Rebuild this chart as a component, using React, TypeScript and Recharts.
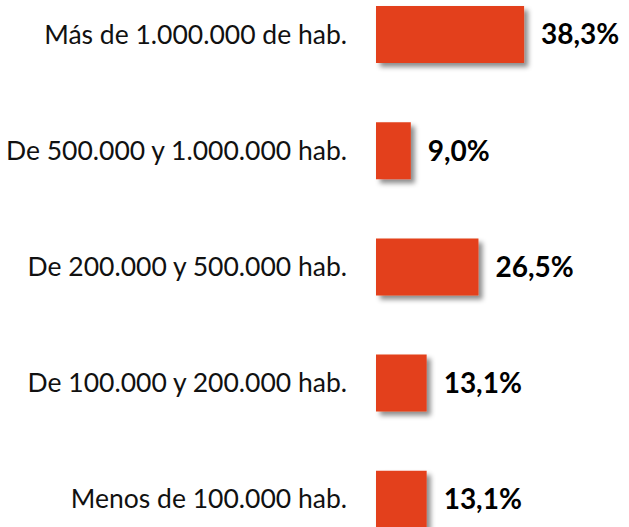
import React from 'react';
import { BarChart, Bar, XAxis, YAxis, LabelList } from 'recharts';

const categories = [
  'Más de 1.000.000 de hab.',
  'De 500.000 y 1.000.000 hab.',
  'De 200.000 y 500.000 hab.',
  'De 100.000 y 200.000 hab.',
  'Menos de 100.000 hab.',
];
const shares = [38.3, 9.0, 26.5, 13.1, 13.1];

const data = categories.map((name, i) => ({ name, value: shares[i] }));

const fmt = (v: any) => `${Number(v).toFixed(1).replace('.', ',')}%`;

export default function App() {
  return (
    <div style={{ position: 'absolute', left: 0, top: 0, width: 629, height: 527, overflow: 'hidden', background: '#fff' }}>
      <div style={{ position: 'absolute', left: 0, top: -24.5 }}>
        <BarChart
          width={629}
          height={581}
          data={data}
          layout="vertical"
          margin={{ top: 0, right: 21, bottom: 0, left: 0 }}
        >
          <defs>
            <filter id="barShadow" x="-20%" y="-20%" width="150%" height="160%">
              <feDropShadow dx="4" dy="4" stdDeviation="2.5" floodColor="#000" floodOpacity="0.45" />
            </filter>
          </defs>
          <XAxis type="number" domain={[0, 60]} hide />
          <YAxis
            type="category"
            dataKey="name"
            width={376}
            axisLine={false}
            tickLine={false}
            tickSize={0}
            tickMargin={29}
            tick={{ fill: '#111', fontSize: 26.5, fontFamily: 'Lato' }}
          />
          <Bar dataKey="value" fill="#E3401A" barSize={57} filter="url(#barShadow)" isAnimationActive={false}>
            <LabelList
              dataKey="value"
              position="right"
              offset={17}
              formatter={fmt}
              style={{ fill: '#000', fontSize: 28, fontWeight: 700, fontFamily: 'Lato' }}
            />
          </Bar>
        </BarChart>
      </div>
    </div>
  );
}
